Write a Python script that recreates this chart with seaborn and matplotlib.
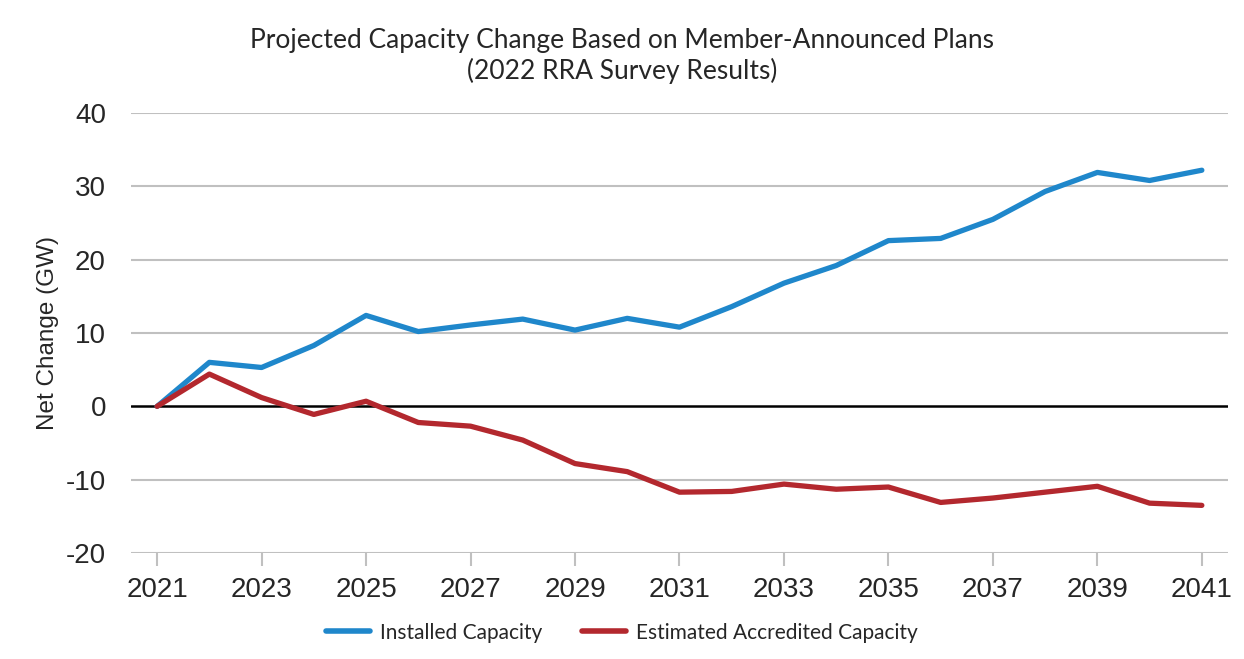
import pandas as pd
import numpy as np
import matplotlib.pyplot as plt
import seaborn as sns

years = list(range(2021, 2042))
installed = [0, 6.0, 5.3, 8.3, 12.4, 10.2, 11.1, 11.9, 10.4, 12.0, 10.8,
             13.6, 16.8, 19.2, 22.6, 22.9, 25.5, 29.3, 31.9, 30.8, 32.2]
accredited = [0, 4.4, 1.2, -1.1, 0.7, -2.2, -2.7, -4.6, -7.8, -8.9, -11.7,
              -11.6, -10.6, -11.3, -11.0, -13.1, -12.5, -11.7, -10.9, -13.2, -13.5]
series_names = ['Installed Capacity', 'Estimated Accredited Capacity']
colors = ['#1f87cb', '#b3282e']

df = pd.DataFrame({
    'year': years * 2,
    'value': installed + accredited,
    'series': [series_names[0]] * len(years) + [series_names[1]] * len(years),
})

sns.set_style('white')
plt.rcParams['font.family'] = ['Lato', 'DejaVu Sans']
plt.rcParams['axes.unicode_minus'] = False
axis_font = ['Liberation Sans', 'DejaVu Sans']

fig = plt.figure(figsize=(12.44, 6.59), dpi=100)
ax = fig.add_axes([0.1053, 0.1608, 0.8818, 0.6677])

# gridlines first so lines sit on top
for v in [-20, -10, 10, 20, 30, 40]:
    ax.axhline(v, color='#c0c0c0', lw=1.5, zorder=0)
ax.axhline(0, color='black', lw=1.8, zorder=1)

sns.lineplot(data=df, x='year', y='value', hue='series', palette=colors,
             linewidth=3.8, ax=ax, legend=False, zorder=3,
             solid_capstyle='round', solid_joinstyle='round')

ax.set_xlim(2020.5, 2041.5)
ax.set_ylim(-20, 40)
ax.set_xticks(years[::2])
ax.set_yticks([-20, -10, 0, 10, 20, 30, 40])
for s in ax.spines.values():
    s.set_visible(False)
ax.tick_params(axis='x', length=9, width=1.5, color='#c0c0c0', labelsize=20, pad=8,
               direction='out', bottom=True)
ax.tick_params(axis='y', length=0, labelsize=20, pad=18)
for lab in ax.get_xticklabels() + ax.get_yticklabels():
    lab.set_family(axis_font)
ax.set_xlabel('')
ax.set_ylabel('Net Change (GW)', fontsize=17.5, labelpad=5, family=axis_font)

fig.text(0.5, 0.915, 'Projected Capacity Change Based on Member-Announced Plans\n(2022 RRA Survey Results)',
         ha='center', va='center', fontsize=19, linespacing=1.2)

handles = [plt.Line2D([0], [0], color=c, lw=4, solid_capstyle='round') for c in colors]
fig.legend(handles, series_names, loc='center', bbox_to_anchor=(0.5, 0.04), ncol=2,
           frameon=False, fontsize=15, handlelength=2.1, handletextpad=0.5,
           columnspacing=1.9)

fig.savefig('out.png', dpi=100)
